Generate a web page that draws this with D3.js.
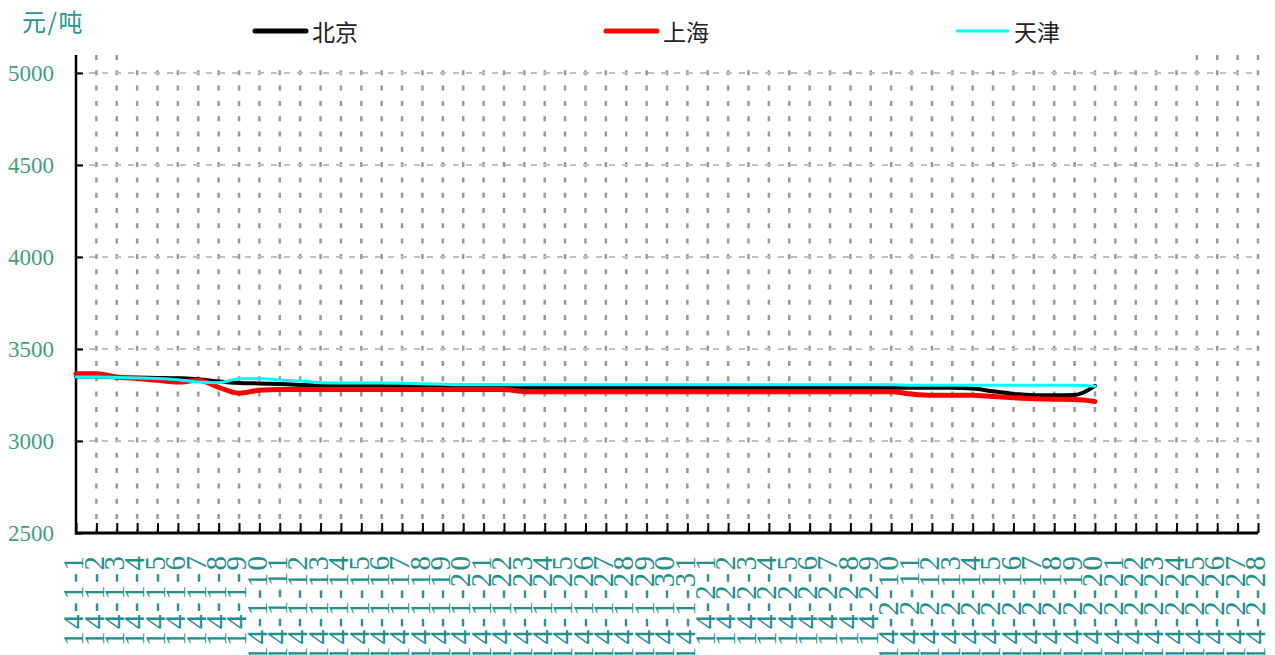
<!DOCTYPE html>
<html>
<head>
<meta charset="utf-8">
<script src="https://cdn.jsdelivr.net/npm/d3@7"></script>
<style>
body { margin: 0; background: #fff; }
.serif { font-family: "Liberation Serif", "DejaVu Serif", serif; }
</style>
</head>
<body>
<div id="chart"></div>
<script>
// categories: one per day, Jan 1 - Feb 28
var dates = ["14-1-1","14-1-2","14-1-3","14-1-4","14-1-5","14-1-6","14-1-7","14-1-8","14-1-9","14-1-10",
    "14-1-11","14-1-12","14-1-13","14-1-14","14-1-15","14-1-16","14-1-17","14-1-18","14-1-19","14-1-20",
    "14-1-21","14-1-22","14-1-23","14-1-24","14-1-25","14-1-26","14-1-27","14-1-28","14-1-29","14-1-30","14-1-31",
    "14-2-1","14-2-2","14-2-3","14-2-4","14-2-5","14-2-6","14-2-7","14-2-8","14-2-9","14-2-10",
    "14-2-11","14-2-12","14-2-13","14-2-14","14-2-15","14-2-16","14-2-17","14-2-18","14-2-19","14-2-20",
    "14-2-21","14-2-22","14-2-23","14-2-24","14-2-25","14-2-26","14-2-27","14-2-28"];

// prices (元/吨), Jan 1 - Feb 20
var beijing = [3350,3350,3347,3345,3343,3341,3336,3323,3315,3313,
    3310,3305,3301,3300,3300,3300,3300,3300,3300,3300,
    3300,3300,3290,3290,3290,3290,3290,3290,3290,3290,3290,
    3290,3290,3290,3290,3290,3290,3290,3290,3290,3290,
    3290,3290,3290,3285,3270,3256,3249,3248,3250,3300];
var shanghai = [3365,3365,3348,3340,3330,3320,3330,3292,3260,3276,
    3280,3280,3280,3280,3280,3280,3280,3280,3280,3280,
    3280,3280,3268,3268,3268,3268,3268,3268,3268,3268,3268,
    3268,3268,3268,3268,3268,3268,3268,3268,3268,3268,
    3255,3248,3248,3248,3242,3235,3230,3227,3225,3215];
var tianjin = [3348,3348,3345,3343,3340,3333,3320,3317,3338,3340,
    3332,3326,3317,3315,3315,3315,3314,3311,3308,3306,
    3306,3306,3306,3306,3306,3306,3306,3306,3306,3306,3306,
    3306,3306,3306,3306,3306,3306,3306,3306,3306,3306,
    3303,3303,3303,3303,3303,3303,3303,3303,3303,3298];

var yTicks = [2500, 3000, 3500, 4000, 4500, 5000];
var seriesNames = ["北京", "上海", "天津"];
var seriesColors = ["#000000", "#ff0000", "#00ffff"];
var seriesWidths = [4, 5, 3];

var width = 1275, height = 655;
var plotLeft = 76, plotRight = 1258, plotTop = 73, plotBottom = 533, axisTop = 55;

var svg = d3.select("#chart").append("svg")
    .attr("width", width)
    .attr("height", height);

var x = d3.scalePoint().domain(dates).range([plotLeft, plotRight]);
var y = d3.scaleLinear().domain([2500, 5000]).range([plotBottom, plotTop]);

// vertical grid
svg.append("g").selectAll("line")
    .data(dates.slice(1))
    .join("line")
    .attr("x1", function(d){ return x(d); })
    .attr("x2", function(d){ return x(d); })
    .attr("y1", axisTop)
    .attr("y2", plotBottom)
    .attr("stroke", "#999")
    .attr("stroke-width", 2.5)
    .attr("stroke-dasharray", "5,10.3");

// horizontal grid
svg.append("g").selectAll("line")
    .data(yTicks.slice(1))
    .join("line")
    .attr("x1", plotLeft)
    .attr("x2", plotRight)
    .attr("y1", function(d){ return y(d); })
    .attr("y2", function(d){ return y(d); })
    .attr("stroke", "#c0c0c0")
    .attr("stroke-width", 2)
    .attr("stroke-dasharray", "6,7");

// axes
var xAxis = svg.append("g")
    .attr("transform", "translate(0," + plotBottom + ")")
    .call(d3.axisBottom(x).tickSize(-10).tickFormat(""));
xAxis.select(".domain").remove();
xAxis.selectAll(".tick line").attr("stroke", "#000").attr("stroke-width", 2);

var yAxis = svg.append("g")
    .attr("transform", "translate(" + plotLeft + ",0)")
    .call(d3.axisLeft(y).tickValues(yTicks).tickFormat(d3.format("d")).tickSize(-7).tickPadding(22));
yAxis.attr("font-family", null);
yAxis.select(".domain").remove();
yAxis.selectAll(".tick line").attr("stroke", "#000").attr("stroke-width", 2);
yAxis.selectAll(".tick text")
    .attr("class", "serif")
    .attr("font-size", 23)
    .attr("fill", "#44a07a");

svg.append("line")
    .attr("x1", plotLeft).attr("x2", plotLeft)
    .attr("y1", axisTop).attr("y2", plotBottom + 1.5)
    .attr("stroke", "#000").attr("stroke-width", 2.5);
svg.append("line")
    .attr("x1", plotLeft - 1).attr("x2", plotRight)
    .attr("y1", plotBottom).attr("y2", plotBottom)
    .attr("stroke", "#000").attr("stroke-width", 3);

// rotated date labels
svg.append("g").selectAll("text")
    .data(dates)
    .join("text")
    .attr("class", "serif")
    .attr("transform", function(d){ return "translate(" + x(d) + ",556) rotate(-90)"; })
    .attr("text-anchor", "end")
    .attr("dy", "0.25em")
    .attr("font-size", 29)
    .attr("fill", "#22908f")
    .attr("textLength", function(d){ return d.length * 15; })
    .attr("lengthAdjust", "spacing")
    .text(function(d){ return d; });

// lines
var line = d3.line()
    .x(function(d, i){ return x(dates[i]); })
    .y(function(d){ return y(d); })
    .curve(d3.curveMonotoneX);

[beijing, shanghai, tianjin].forEach(function(s, i){
    svg.append("path")
        .datum(s)
        .attr("d", line)
        .attr("fill", "none")
        .attr("stroke", seriesColors[i])
        .attr("stroke-width", seriesWidths[i])
        .attr("stroke-linecap", "round")
        .attr("stroke-linejoin", "round");
});

// legend (white backing hides the grid tops)
svg.append("rect")
    .attr("x", 126).attr("y", 0)
    .attr("width", 1062).attr("height", 63)
    .attr("fill", "#fff");

var legend = svg.append("g").selectAll("g")
    .data(seriesNames)
    .join("g")
    .attr("transform", function(d, i){ return "translate(" + (255 + i * 351) + ",31)"; });
legend.append("line")
    .attr("x1", 0).attr("x2", 51)
    .attr("stroke", function(d, i){ return seriesColors[i]; })
    .attr("stroke-width", function(d, i){ return i == 2 ? 3 : 5; })
    .attr("stroke-linecap", "round");
legend.append("text")
    .attr("x", 57)
    .attr("y", 10)
    .attr("font-family", "Noto Sans CJK SC")
    .attr("font-size", 23)
    .attr("fill", "#222")
    .text(function(d){ return d; });

// unit
svg.append("text")
    .attr("x", 22)
    .attr("y", 31)
    .attr("font-family", "Noto Sans CJK SC")
    .attr("font-size", 24)
    .attr("letter-spacing", 1.5)
    .attr("fill", "#2a9595")
    .text("元/吨");
</script>
</body>
</html>
